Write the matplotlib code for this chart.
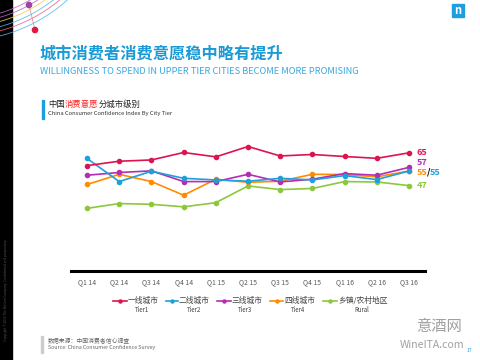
import numpy as np
import matplotlib
matplotlib.use("Agg")
import matplotlib.pyplot as plt
from matplotlib.lines import Line2D
from matplotlib.patches import Rectangle, Circle

plt.rcParams['font.family'] = ['Noto Sans CJK SC', 'DejaVu Sans']

quarters = ["Q1 14", "Q2 14", "Q3 14", "Q4 14", "Q1 15", "Q2 15", "Q3 15",
            "Q4 15", "Q1 16", "Q2 16", "Q3 16"]
tier1 = [58.0, 60.4, 61.1, 65.2, 62.8, 68.5, 63.3, 64.1, 63.0, 62.0, 65.0]
tier2 = [61.9, 49.2, 54.9, 51.0, 50.1, 49.4, 51.0, 50.1, 52.5, 50.3, 55.0]
tier3 = [52.7, 54.2, 55.1, 49.2, 49.2, 53.2, 49.0, 50.5, 53.6, 52.7, 57.0]
tier4 = [47.6, 53.2, 49.2, 41.7, 50.5, 48.8, 49.4, 53.2, 53.1, 51.8, 55.0]
rural = [34.5, 37.1, 36.7, 35.3, 37.6, 46.8, 44.8, 45.4, 49.2, 49.0, 47.0]

series_cn = ["一线城市", "二线城市", "三线城市", "四线城市", "乡镇/农村地区"]
series_en = ["Tier1", "Tier2", "Tier3", "Tier4", "Rural"]
colors = ["#dc1450", "#1ea0dc", "#b42db4", "#ff8c00", "#8cc83c"]
data = [tier1, tier2, tier3, tier4, rural]

fig = plt.figure(figsize=(4.8, 3.6), dpi=100)

# background overlay in pixel coordinates
bg = fig.add_axes([0, 0, 1, 1], zorder=0)
bg.set_xlim(0, 480)
bg.set_ylim(360, 0)
bg.axis('off')
bg.add_patch(Rectangle((0, 0), 12, 360, color='black', zorder=1))
arc_specs = [(139, "#c060c8"), (143, "#c060c8"), (147, "#f0d040"),
             (152, "#50b8e8"), (156, "#f06080"), (161, "#50b8e8")]
for r, c in arc_specs:
    th = np.linspace(0, np.pi / 2, 300)
    xs = -40 + r * np.sin(th)
    ys = -120 + r * np.cos(th)
    bg.plot(xs, ys, color=c, lw=0.6, zorder=2, alpha=0.9)
bg.plot([29, 35], [5, 30], color="#e08090", lw=0.5, zorder=2)
bg.add_patch(Circle((29, 5), 2.6, color="#a040a8", zorder=3))
bg.add_patch(Circle((35, 30), 2.6, color="#e01840", zorder=3))
bg.text(6, 290, "Copyright © 2016 The Nielsen Company. Confidential and proprietary.",
        color="#555555", fontsize=2.3, rotation=90, ha='center', va='center', zorder=3)

# logo
bg.add_patch(Rectangle((452, 4), 12, 13, color="#1e9ee0", zorder=2))
bg.text(458, 11, "n", color="white", fontsize=8, ha='center', va='center',
        fontweight='bold', zorder=3)

# titles
bg.text(40, 53, "城市消费者消费意愿稳中略有提升", color="#1a9ad6", fontsize=11.7,
        fontweight='bold', ha='left', va='center')
bg.text(40, 71, "WILLINGNESS TO SPEND IN UPPER TIER CITIES BECOME MORE PROMISING",
        color="#3aa8e0", fontsize=6.7, ha='left', va='center')

bg.add_patch(Rectangle((42, 100), 2.2, 19, color="#1e9ee0"))
fig.canvas.draw()
renderer = fig.canvas.get_renderer()
parts = [("中国", "#222222"), ("消费意愿", "#ff2020"), ("分城市级别", "#222222")]
x0 = 48
for s, c in parts:
    tt = bg.text(x0, 104, s, color=c, fontsize=6, ha='left', va='center')
    bb = tt.get_window_extent(renderer)
    x0 += bb.width * 480 / fig.bbox.width
bg.text(48, 114, "China Consumer Confidence Index By City Tier", color="#333333",
        fontsize=4.2, ha='left', va='center')

# source
bg.add_patch(Rectangle((41, 336), 1.6, 17, color="#cccccc"))
bg.text(48, 341, "数据来源：中国消费者信心调查", color="#666666", fontsize=4.2,
        style='italic', ha='left', va='center')
bg.text(48, 348, "Source: China Consumer Confidence Survey", color="#666666",
        fontsize=3.8, style='italic', ha='left', va='center')

# watermark
bg.text(439, 327, "意酒网", color="#a0a0a0", fontsize=11, ha='center', va='center')
bg.text(432, 345, "WineITA.com", color="#a0a0a0", fontsize=7.6, ha='center', va='center')
bg.text(469, 351, "17", color="#1e9ee0", fontsize=3.5, ha='center', va='center')

# main chart
ax = fig.add_axes([71 / 480, 1 - 271 / 360, (425 - 71) / 480, (271 - 125.6) / 360], zorder=2)
ax.patch.set_alpha(0)
x = np.arange(len(quarters))
order = [4, 3, 1, 2, 0]
for i in order:
    ax.plot(x, data[i], color=colors[i], lw=1.2, marker='o', markersize=3,
            zorder=3 + (5 - i) * 0.1)
ax.set_xlim(-0.5, len(quarters) - 0.5)
ax.set_ylim(0, 80)
ax.set_yticks([])
for s in ['top', 'right', 'left']:
    ax.spines[s].set_visible(False)
ax.spines['bottom'].set_linewidth(2.2)
ax.spines['bottom'].set_color('black')
ax.set_xticks(x)
ax.set_xticklabels(quarters, fontsize=4.9, color="#595959")
ax.tick_params(axis='x', length=0, pad=5)

# end labels
lx = 10.25
fs = 6.5
ax.text(lx, tier1[-1], "65", color=colors[0], fontsize=fs, fontweight='bold',
        ha='left', va='center')
ax.text(lx, 59.5, "57", color=colors[2], fontsize=fs, fontweight='bold',
        ha='left', va='center')
y55 = 54.2
ax.text(lx, y55, "55", color=colors[3], fontsize=fs, fontweight='bold',
        ha='left', va='center')
ax.annotate("/", xy=(lx, y55), xytext=(7.0, 0), textcoords='offset points',
            color="black", fontsize=fs, fontweight='bold', ha='left', va='center')
ax.annotate("55", xy=(lx, y55), xytext=(9.3, 0), textcoords='offset points',
            color=colors[1], fontsize=fs, fontweight='bold', ha='left', va='center')
ax.text(lx, rural[-1], "47", color=colors[4], fontsize=fs, fontweight='bold',
        ha='left', va='center')

# legend (manual)
leg_lines = [(113, 127), (166, 178), (217, 231), (270, 283), (323, 337)]
en_x = [142, 194, 245, 298, 362]
for i in range(5):
    a, b = leg_lines[i]
    bg.add_line(Line2D([a, b], [300.7, 300.7], color=colors[i], lw=1.2, zorder=3))
    bg.plot([(a + b) / 2], [300.7], marker='o', markersize=2.2, color=colors[i], zorder=4)
    bg.text(b + 1, 300.7, series_cn[i], color="#404040", fontsize=5.6,
            ha='left', va='center')
    bg.text(en_x[i], 310.5, series_en[i], color="#404040", fontsize=4.4,
            ha='center', va='center')

fig.savefig("out.png", dpi=100)
